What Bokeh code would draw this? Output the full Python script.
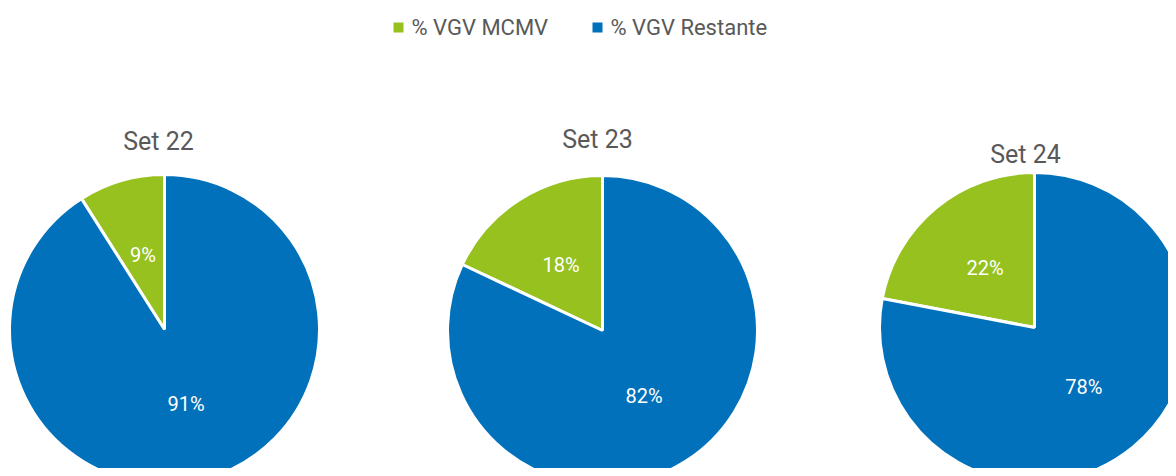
import math
from bokeh.plotting import figure
from bokeh.models import Range1d, ColumnDataSource
from bokeh.core.properties import value
from bokeh.embed import file_html
from bokeh.resources import INLINE

# ---- data ----
sets = ["Set 22", "Set 23", "Set 24"]
mcmv = [9, 18, 22]          # % VGV MCMV
restante = [91, 82, 78]     # % VGV Restante
series_names = ["% VGV MCMV", "% VGV Restante"]
colors = ["#96C11F", "#0071BA"]

# ---- layout (image pixel coords; y measured from top) ----
W, H = 1168, 468
TOP = 476
def Y(img_y):
    return TOP - img_y

centers = [(164, 329), (602, 330), (1034, 327)]
radius = 155
title_pos = [(158, 141), (597, 139), (1025, 154)]
FONT = value("Roboto")

p = figure(width=W, height=H, output_backend="svg", toolbar_location=None,
           x_range=Range1d(0, W), y_range=Range1d(TOP - H, TOP),
           min_border=0, min_border_left=0, min_border_right=0,
           min_border_top=0, min_border_bottom=0)
p.axis.visible = False
p.grid.visible = False
p.outline_line_color = None
p.background_fill_color = "white"
p.border_fill_color = "white"

for i, name in enumerate(sets):
    cx, cy = centers[i]
    total = mcmv[i] + restante[i]
    f = mcmv[i] / total
    top = math.pi / 2
    split = top + f * 2 * math.pi
    src = ColumnDataSource(dict(
        x=[cx, cx], y=[Y(cy), Y(cy)],
        start=[top, split], end=[split, top + 2 * math.pi],
        color=colors,
    ))
    p.wedge(x="x", y="y", radius=radius, start_angle="start", end_angle="end",
            fill_color="color", line_color="white", line_width=3, source=src)

    # labels at half radius along bisectors
    mids = [(top + split) / 2, (split + top + 2 * math.pi) / 2]
    vals = [mcmv[i], restante[i]]
    lx = [cx + 0.5 * radius * math.cos(a) for a in mids]
    ly = [Y(cy) + 0.5 * radius * math.sin(a) for a in mids]
    p.text(x=lx, y=ly, text=[f"{v}%" for v in vals], text_font=FONT,
           text_font_size="20px", text_color="white",
           text_align="center", text_baseline="middle")

    tx, ty = title_pos[i]
    p.text(x=[tx], y=[Y(ty)], text=[name], text_font=FONT,
           text_font_size="25px", text_color="#595959",
           text_align="center", text_baseline="middle")

# ---- legend ----
leg_sq_x = [398, 597]
leg_tx_x = [411, 610]
leg_y = Y(27)
p.scatter(x=leg_sq_x, y=[leg_y, leg_y], marker="square", size=10,
          fill_color=colors, line_color=None)
p.text(x=leg_tx_x, y=[leg_y, leg_y], text=series_names, text_font=FONT,
       text_font_size="22px", text_color="#595959",
       text_align="left", text_baseline="middle")

open("out.html", "w").write(file_html(p, INLINE))
